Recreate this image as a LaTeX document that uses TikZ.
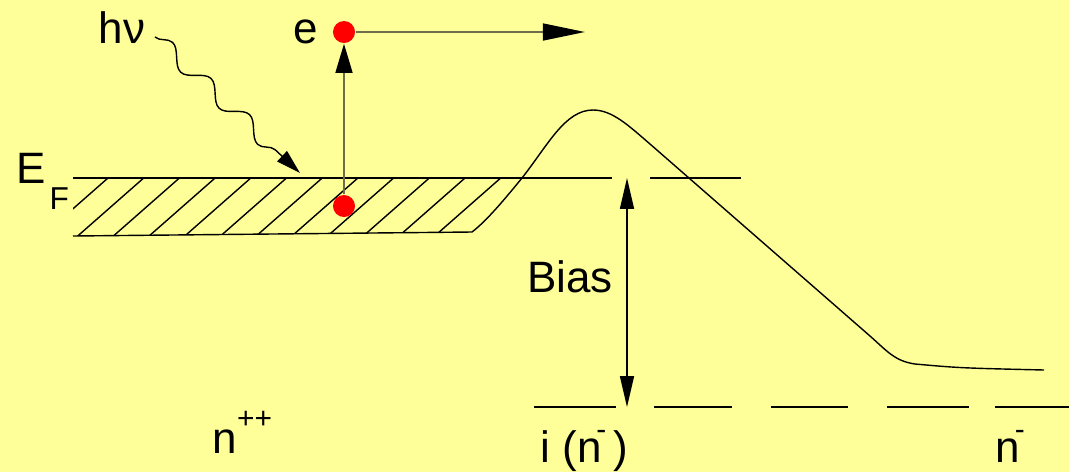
\documentclass[tikz,border=0pt]{standalone}
\usepackage{fontspec}
\setmainfont{Liberation Sans}
\definecolor{BANDyellow}{HTML}{FFFF99}
\definecolor{BANDred}{HTML}{FF0000}
\definecolor{BANDolive}{HTML}{6E6E48}
\usetikzlibrary{arrows.meta, decorations.pathmorphing}
\newcommand{\nminus}{\kern-1.5pt\raisebox{6.5pt}{\fontsize{8.5}{8.5}\selectfont -}}

\begin{document}
\begin{tikzpicture}[x=0.01cm, y=-0.01cm, font=\fontsize{12.5}{15}\selectfont,
      electron/.style={circle, fill=BANDred, inner sep=0pt, minimum size=0.22cm},
      label/.style={anchor=base west, inner sep=0pt}]
   % Background
   \fill[BANDyellow] (0,0) rectangle (1069,472);
   \useasboundingbox (0,0) rectangle (1069,472);
   % Filled states below E_F (hatched)
   \begin{scope}
      \clip (73,178) -- (522,178) .. controls (500,205) and (485,222) .. (472,232)
         -- (73,236) -- cycle;
      \foreach \k in {-1,...,13}
         \draw ({108+35.7*\k},178) -- ({42+35.7*\k},236);
   \end{scope}
   % Fermi level and band edge
   \draw (73,178) -- (612,178);
   \draw (650,178) -- (741,178);
   \draw (73,236) -- (472,232);
   % Barrier profile
   \draw (472,232) .. controls (485,222) and (500,205) .. (522,178)
      .. controls (548,145) and (565,110) .. (593,110)
      .. controls (612,110) and (628,125) .. (650,144)
      -- (870,336) .. controls (888,352) and (895,361) .. (915,364)
      .. controls (960,368) .. (1044,370);
   % Lower level (dashed)
   \foreach \a/\b in {534/616, 654/732, 771/848, 887/969, 995/1069}
      \draw (\a,407) -- (\b,407);
   % Bias arrow
   \coordinate (biastop) at (627,178);
   \coordinate (biasbot) at (627,407);
   \draw[{Triangle[length=8.8pt, width=4pt]}-{Triangle[length=8.8pt, width=4pt]}]
      (biastop) -- (biasbot);
   \node[anchor=base] (bias) at (570,292) {Bias};
   % Photon
   \coordinate (hvfrom) at (155,37);
   \coordinate (hvto) at (300,173);
   \draw[decorate, decoration={snake, amplitude=2.3pt, segment length=15pt, post length=9pt},
      -{Triangle[length=7pt, width=4pt]}] (hvfrom) -- (hvto);
   \node[anchor=base] (hv) at (122,43) {hν};
   % Electron excited and emitted
   \node[electron] (edown) at (344,206) {};
   \node[electron] (eup) at (344,32) {};
   \coordinate (eout) at (585,32);
   \draw[BANDolive, semithick, -{Triangle[length=8.3pt, width=4.8pt, color=black]}] (edown) -- (eup);
   \draw[BANDolive, semithick, -{Triangle[length=12pt, width=4.8pt, color=black]}] (eup) -- (eout);
   \node[anchor=base] (elabel) at (306,43) {e};
   % Labels
   \node[label] (ef) at (16,183) {E\kern1pt\raisebox{-7.4pt}{\fontsize{9}{9}\selectfont F}};
   \node[label] (npp) at (212,453) {n\raisebox{7pt}{\fontsize{8.5}{8.5}\selectfont ++}};
   \node[label] (intr) at (540,462) {i (n\nminus\,)};
   \node[label] (nm) at (995,462) {n\nminus};
\end{tikzpicture}
\end{document}
